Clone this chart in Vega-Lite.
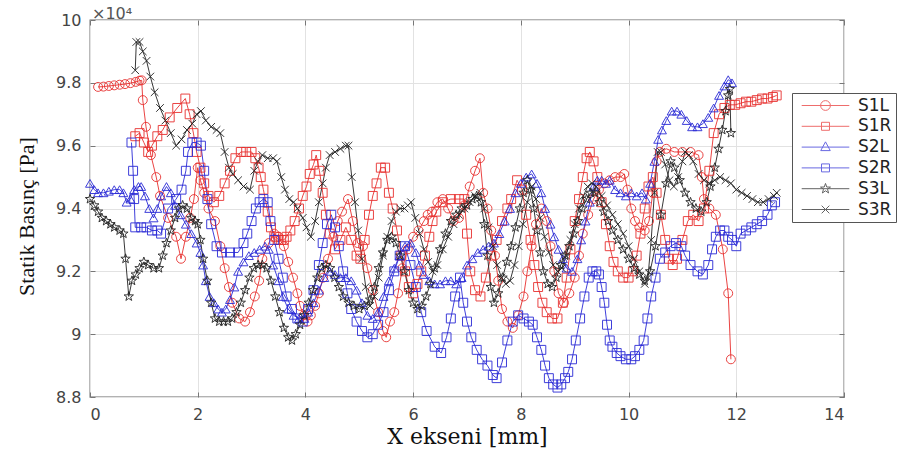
{
"$schema": "https://vega.github.io/schema/vega-lite/v6.json",
"width": 754, "height": 377,
"autosize": "none",
"padding": {"left": 90, "top": 20, "right": 61, "bottom": 65},
"background": "white",
"title": {"text": "×10⁴", "anchor": "start", "frame": "group", "fontSize": 16, "font": "DejaVu Sans", "fontWeight": "normal", "color": "#555555", "offset": -10, "dx": 2},
"config": {"view": {"stroke": "#666666", "strokeWidth": 1.3}, "font": "DejaVu Sans"},
"data": {"values": [
{"s":"S1L","x":0.15,"y":97870},{"s":"S1L","x":0.25,"y":97880},{"s":"S1L","x":0.35,"y":97900},{"s":"S1L","x":0.45,"y":97920},{"s":"S1L","x":0.55,"y":97940},{"s":"S1L","x":0.65,"y":97960},{"s":"S1L","x":0.75,"y":97990},{"s":"S1L","x":0.85,"y":98030},{"s":"S1L","x":0.92,"y":98070},{"s":"S1L","x":0.96,"y":98080},{"s":"S1L","x":0.98,"y":97450},{"s":"S1L","x":1.04,"y":96600},{"s":"S1L","x":1.13,"y":95700},{"s":"S1L","x":1.23,"y":95000},{"s":"S1L","x":1.3,"y":94400},{"s":"S1L","x":1.45,"y":93700},{"s":"S1L","x":1.6,"y":93100},{"s":"S1L","x":1.69,"y":92400},{"s":"S1L","x":1.78,"y":93100},{"s":"S1L","x":1.86,"y":93700},{"s":"S1L","x":1.93,"y":94300},{"s":"S1L","x":2.0,"y":95300},{"s":"S1L","x":2.05,"y":94900},{"s":"S1L","x":2.12,"y":94500},{"s":"S1L","x":2.2,"y":94000},{"s":"S1L","x":2.32,"y":93600},{"s":"S1L","x":2.42,"y":92800},{"s":"S1L","x":2.5,"y":92100},{"s":"S1L","x":2.58,"y":91500},{"s":"S1L","x":2.64,"y":91000},{"s":"S1L","x":2.77,"y":90500},{"s":"S1L","x":2.88,"y":90400},{"s":"S1L","x":2.97,"y":90700},{"s":"S1L","x":3.06,"y":91200},{"s":"S1L","x":3.14,"y":91700},{"s":"S1L","x":3.2,"y":92400},{"s":"S1L","x":3.32,"y":92900},{"s":"S1L","x":3.42,"y":93200},{"s":"S1L","x":3.5,"y":93100},{"s":"S1L","x":3.6,"y":92800},{"s":"S1L","x":3.68,"y":92300},{"s":"S1L","x":3.77,"y":91800},{"s":"S1L","x":3.85,"y":91300},{"s":"S1L","x":3.9,"y":90900},{"s":"S1L","x":3.97,"y":90600},{"s":"S1L","x":4.04,"y":90400},{"s":"S1L","x":4.1,"y":90600},{"s":"S1L","x":4.18,"y":90900},{"s":"S1L","x":4.25,"y":91300},{"s":"S1L","x":4.33,"y":91800},{"s":"S1L","x":4.42,"y":92400},{"s":"S1L","x":4.52,"y":93100},{"s":"S1L","x":4.6,"y":93600},{"s":"S1L","x":4.68,"y":93900},{"s":"S1L","x":4.79,"y":94300},{"s":"S1L","x":4.88,"y":93600},{"s":"S1L","x":4.97,"y":92900},{"s":"S1L","x":5.07,"y":92800},{"s":"S1L","x":5.15,"y":92100},{"s":"S1L","x":5.25,"y":91400},{"s":"S1L","x":5.35,"y":90700},{"s":"S1L","x":5.44,"y":90100},{"s":"S1L","x":5.5,"y":89900},{"s":"S1L","x":5.57,"y":90400},{"s":"S1L","x":5.65,"y":90700},{"s":"S1L","x":5.72,"y":91300},{"s":"S1L","x":5.8,"y":92100},{"s":"S1L","x":5.9,"y":92700},{"s":"S1L","x":6.0,"y":93100},{"s":"S1L","x":6.1,"y":93300},{"s":"S1L","x":6.2,"y":93600},{"s":"S1L","x":6.27,"y":93800},{"s":"S1L","x":6.35,"y":93900},{"s":"S1L","x":6.45,"y":94200},{"s":"S1L","x":6.55,"y":94300},{"s":"S1L","x":6.65,"y":94000},{"s":"S1L","x":6.75,"y":93600},{"s":"S1L","x":6.85,"y":93700},{"s":"S1L","x":6.95,"y":94100},{"s":"S1L","x":7.05,"y":94700},{"s":"S1L","x":7.15,"y":95200},{"s":"S1L","x":7.24,"y":95600},{"s":"S1L","x":7.3,"y":94500},{"s":"S1L","x":7.38,"y":94000},{"s":"S1L","x":7.45,"y":93300},{"s":"S1L","x":7.52,"y":92500},{"s":"S1L","x":7.58,"y":91700},{"s":"S1L","x":7.65,"y":90800},{"s":"S1L","x":7.75,"y":90400},{"s":"S1L","x":7.85,"y":90200},{"s":"S1L","x":7.95,"y":90600},{"s":"S1L","x":8.05,"y":91200},{"s":"S1L","x":8.12,"y":92000},{"s":"S1L","x":8.2,"y":92800},{"s":"S1L","x":8.28,"y":93500},{"s":"S1L","x":8.38,"y":94000},{"s":"S1L","x":8.48,"y":93600},{"s":"S1L","x":8.55,"y":92800},{"s":"S1L","x":8.62,"y":92000},{"s":"S1L","x":8.7,"y":91300},{"s":"S1L","x":8.8,"y":91000},{"s":"S1L","x":8.9,"y":91300},{"s":"S1L","x":9.0,"y":91800},{"s":"S1L","x":9.08,"y":92500},{"s":"S1L","x":9.15,"y":93200},{"s":"S1L","x":9.25,"y":93800},{"s":"S1L","x":9.35,"y":94300},{"s":"S1L","x":9.45,"y":94600},{"s":"S1L","x":9.55,"y":94800},{"s":"S1L","x":9.65,"y":94900},{"s":"S1L","x":9.75,"y":95000},{"s":"S1L","x":9.85,"y":95000},{"s":"S1L","x":9.92,"y":95100},{"s":"S1L","x":9.98,"y":94600},{"s":"S1L","x":10.05,"y":94000},{"s":"S1L","x":10.12,"y":93600},{"s":"S1L","x":10.2,"y":93400},{"s":"S1L","x":10.3,"y":93300},{"s":"S1L","x":10.38,"y":93600},{"s":"S1L","x":10.45,"y":94500},{"s":"S1L","x":10.52,"y":95500},{"s":"S1L","x":10.58,"y":95800},{"s":"S1L","x":10.7,"y":95900},{"s":"S1L","x":10.85,"y":95800},{"s":"S1L","x":11.0,"y":95800},{"s":"S1L","x":11.15,"y":95800},{"s":"S1L","x":11.3,"y":95700},{"s":"S1L","x":11.36,"y":95000},{"s":"S1L","x":11.4,"y":94300},{"s":"S1L","x":11.5,"y":94000},{"s":"S1L","x":11.62,"y":93800},{"s":"S1L","x":11.75,"y":92700},{"s":"S1L","x":11.85,"y":91300},{"s":"S1L","x":11.9,"y":89200},
{"s":"S1R","x":0.84,"y":96300},{"s":"S1R","x":0.92,"y":96400},{"s":"S1R","x":1.0,"y":96100},{"s":"S1R","x":1.08,"y":95800},{"s":"S1R","x":1.15,"y":96000},{"s":"S1R","x":1.25,"y":96300},{"s":"S1R","x":1.35,"y":96500},{"s":"S1R","x":1.48,"y":96900},{"s":"S1R","x":1.62,"y":97200},{"s":"S1R","x":1.77,"y":97500},{"s":"S1R","x":1.85,"y":97000},{"s":"S1R","x":1.92,"y":96400},{"s":"S1R","x":1.98,"y":95800},{"s":"S1R","x":2.05,"y":95300},{"s":"S1R","x":2.12,"y":94800},{"s":"S1R","x":2.2,"y":94400},{"s":"S1R","x":2.3,"y":94200},{"s":"S1R","x":2.4,"y":94400},{"s":"S1R","x":2.5,"y":94800},{"s":"S1R","x":2.6,"y":95200},{"s":"S1R","x":2.7,"y":95600},{"s":"S1R","x":2.8,"y":95800},{"s":"S1R","x":2.9,"y":95800},{"s":"S1R","x":3.0,"y":95800},{"s":"S1R","x":3.07,"y":95600},{"s":"S1R","x":3.13,"y":95300},{"s":"S1R","x":3.17,"y":95000},{"s":"S1R","x":3.22,"y":94600},{"s":"S1R","x":3.3,"y":93900},{"s":"S1R","x":3.36,"y":93400},{"s":"S1R","x":3.45,"y":93100},{"s":"S1R","x":3.5,"y":93000},{"s":"S1R","x":3.55,"y":93000},{"s":"S1R","x":3.6,"y":93000},{"s":"S1R","x":3.65,"y":93100},{"s":"S1R","x":3.72,"y":93300},{"s":"S1R","x":3.8,"y":93600},{"s":"S1R","x":3.88,"y":94000},{"s":"S1R","x":3.95,"y":94400},{"s":"S1R","x":4.02,"y":94700},{"s":"S1R","x":4.08,"y":95100},{"s":"S1R","x":4.15,"y":95400},{"s":"S1R","x":4.2,"y":95700},{"s":"S1R","x":4.26,"y":95200},{"s":"S1R","x":4.32,"y":94500},{"s":"S1R","x":4.38,"y":93800},{"s":"S1R","x":4.45,"y":93200},{"s":"S1R","x":4.55,"y":92700},{"s":"S1R","x":4.65,"y":93000},{"s":"S1R","x":4.75,"y":93400},{"s":"S1R","x":4.85,"y":93000},{"s":"S1R","x":4.95,"y":92500},{"s":"S1R","x":5.02,"y":92400},{"s":"S1R","x":5.1,"y":93000},{"s":"S1R","x":5.18,"y":93800},{"s":"S1R","x":5.25,"y":94400},{"s":"S1R","x":5.32,"y":94800},{"s":"S1R","x":5.4,"y":95300},{"s":"S1R","x":5.48,"y":95300},{"s":"S1R","x":5.55,"y":94500},{"s":"S1R","x":5.62,"y":94000},{"s":"S1R","x":5.7,"y":93300},{"s":"S1R","x":5.78,"y":92500},{"s":"S1R","x":5.85,"y":92000},{"s":"S1R","x":5.92,"y":91500},{"s":"S1R","x":6.0,"y":91300},{"s":"S1R","x":6.08,"y":91600},{"s":"S1R","x":6.15,"y":92000},{"s":"S1R","x":6.22,"y":92500},{"s":"S1R","x":6.3,"y":93100},{"s":"S1R","x":6.36,"y":93600},{"s":"S1R","x":6.43,"y":93900},{"s":"S1R","x":6.55,"y":94200},{"s":"S1R","x":6.7,"y":94300},{"s":"S1R","x":6.85,"y":94300},{"s":"S1R","x":6.95,"y":94300},{"s":"S1R","x":7.0,"y":93200},{"s":"S1R","x":7.06,"y":92000},{"s":"S1R","x":7.15,"y":91400},{"s":"S1R","x":7.25,"y":91200},{"s":"S1R","x":7.35,"y":91800},{"s":"S1R","x":7.45,"y":92500},{"s":"S1R","x":7.55,"y":93000},{"s":"S1R","x":7.65,"y":93600},{"s":"S1R","x":7.75,"y":94000},{"s":"S1R","x":7.82,"y":94300},{"s":"S1R","x":7.93,"y":94900},{"s":"S1R","x":8.02,"y":94600},{"s":"S1R","x":8.1,"y":93800},{"s":"S1R","x":8.18,"y":93000},{"s":"S1R","x":8.25,"y":92200},{"s":"S1R","x":8.32,"y":91500},{"s":"S1R","x":8.4,"y":91000},{"s":"S1R","x":8.48,"y":90700},{"s":"S1R","x":8.58,"y":90500},{"s":"S1R","x":8.68,"y":90500},{"s":"S1R","x":8.78,"y":91000},{"s":"S1R","x":8.85,"y":91800},{"s":"S1R","x":8.92,"y":92700},{"s":"S1R","x":9.0,"y":93600},{"s":"S1R","x":9.08,"y":94300},{"s":"S1R","x":9.15,"y":95000},{"s":"S1R","x":9.22,"y":95600},{"s":"S1R","x":9.28,"y":95800},{"s":"S1R","x":9.35,"y":95500},{"s":"S1R","x":9.42,"y":95000},{"s":"S1R","x":9.5,"y":94200},{"s":"S1R","x":9.58,"y":93500},{"s":"S1R","x":9.65,"y":92800},{"s":"S1R","x":9.72,"y":92300},{"s":"S1R","x":9.8,"y":92000},{"s":"S1R","x":9.9,"y":91800},{"s":"S1R","x":10.0,"y":91800},{"s":"S1R","x":10.08,"y":92000},{"s":"S1R","x":10.15,"y":92500},{"s":"S1R","x":10.22,"y":93200},{"s":"S1R","x":10.3,"y":94000},{"s":"S1R","x":10.37,"y":94700},{"s":"S1R","x":10.45,"y":95000},{"s":"S1R","x":10.52,"y":94500},{"s":"S1R","x":10.6,"y":93800},{"s":"S1R","x":10.68,"y":93000},{"s":"S1R","x":10.75,"y":92400},{"s":"S1R","x":10.82,"y":92200},{"s":"S1R","x":10.9,"y":92400},{"s":"S1R","x":11.0,"y":93000},{"s":"S1R","x":11.1,"y":93600},{"s":"S1R","x":11.2,"y":93800},{"s":"S1R","x":11.3,"y":93600},{"s":"S1R","x":11.4,"y":94000},{"s":"S1R","x":11.5,"y":95200},{"s":"S1R","x":11.58,"y":96400},{"s":"S1R","x":11.68,"y":97000},{"s":"S1R","x":11.78,"y":97200},{"s":"S1R","x":11.88,"y":97300},{"s":"S1R","x":11.98,"y":97300},{"s":"S1R","x":12.08,"y":97350},{"s":"S1R","x":12.18,"y":97400},{"s":"S1R","x":12.28,"y":97400},{"s":"S1R","x":12.38,"y":97450},{"s":"S1R","x":12.48,"y":97500},{"s":"S1R","x":12.58,"y":97500},{"s":"S1R","x":12.68,"y":97550},{"s":"S1R","x":12.75,"y":97600},
{"s":"S2L","x":0.0,"y":94800},{"s":"S2L","x":0.08,"y":94600},{"s":"S2L","x":0.15,"y":94500},{"s":"S2L","x":0.25,"y":94500},{"s":"S2L","x":0.35,"y":94550},{"s":"S2L","x":0.45,"y":94600},{"s":"S2L","x":0.55,"y":94600},{"s":"S2L","x":0.62,"y":94500},{"s":"S2L","x":0.68,"y":94200},{"s":"S2L","x":0.75,"y":94300},{"s":"S2L","x":0.82,"y":94600},{"s":"S2L","x":0.9,"y":94700},{"s":"S2L","x":0.95,"y":94700},{"s":"S2L","x":1.02,"y":94400},{"s":"S2L","x":1.1,"y":94000},{"s":"S2L","x":1.18,"y":93700},{"s":"S2L","x":1.25,"y":94000},{"s":"S2L","x":1.32,"y":94400},{"s":"S2L","x":1.42,"y":94700},{"s":"S2L","x":1.5,"y":94500},{"s":"S2L","x":1.58,"y":94100},{"s":"S2L","x":1.68,"y":93800},{"s":"S2L","x":1.78,"y":93500},{"s":"S2L","x":1.88,"y":93200},{"s":"S2L","x":1.98,"y":92900},{"s":"S2L","x":2.05,"y":92600},{"s":"S2L","x":2.1,"y":92200},{"s":"S2L","x":2.15,"y":91700},{"s":"S2L","x":2.22,"y":91200},{"s":"S2L","x":2.3,"y":91000},{"s":"S2L","x":2.38,"y":90800},{"s":"S2L","x":2.45,"y":90700},{"s":"S2L","x":2.52,"y":90800},{"s":"S2L","x":2.6,"y":91100},{"s":"S2L","x":2.68,"y":91500},{"s":"S2L","x":2.75,"y":92000},{"s":"S2L","x":2.85,"y":92300},{"s":"S2L","x":2.95,"y":92500},{"s":"S2L","x":3.05,"y":92600},{"s":"S2L","x":3.15,"y":92700},{"s":"S2L","x":3.25,"y":92800},{"s":"S2L","x":3.32,"y":92700},{"s":"S2L","x":3.4,"y":92200},{"s":"S2L","x":3.5,"y":91700},{"s":"S2L","x":3.58,"y":91200},{"s":"S2L","x":3.68,"y":90800},{"s":"S2L","x":3.78,"y":90600},{"s":"S2L","x":3.88,"y":90500},{"s":"S2L","x":3.98,"y":90500},{"s":"S2L","x":4.05,"y":90700},{"s":"S2L","x":4.15,"y":91000},{"s":"S2L","x":4.25,"y":91400},{"s":"S2L","x":4.35,"y":91800},{"s":"S2L","x":4.45,"y":92000},{"s":"S2L","x":4.55,"y":91900},{"s":"S2L","x":4.65,"y":91800},{"s":"S2L","x":4.75,"y":91800},{"s":"S2L","x":4.85,"y":91700},{"s":"S2L","x":4.95,"y":91400},{"s":"S2L","x":5.05,"y":91000},{"s":"S2L","x":5.15,"y":90600},{"s":"S2L","x":5.25,"y":90500},{"s":"S2L","x":5.35,"y":90700},{"s":"S2L","x":5.45,"y":91200},{"s":"S2L","x":5.55,"y":91700},{"s":"S2L","x":5.65,"y":92100},{"s":"S2L","x":5.75,"y":92500},{"s":"S2L","x":5.85,"y":92800},{"s":"S2L","x":5.95,"y":92900},{"s":"S2L","x":6.05,"y":92600},{"s":"S2L","x":6.12,"y":92200},{"s":"S2L","x":6.2,"y":91900},{"s":"S2L","x":6.3,"y":91700},{"s":"S2L","x":6.4,"y":91600},{"s":"S2L","x":6.5,"y":91600},{"s":"S2L","x":6.6,"y":91700},{"s":"S2L","x":6.7,"y":91700},{"s":"S2L","x":6.8,"y":91600},{"s":"S2L","x":6.9,"y":91800},{"s":"S2L","x":7.0,"y":92200},{"s":"S2L","x":7.1,"y":92400},{"s":"S2L","x":7.2,"y":92600},{"s":"S2L","x":7.3,"y":92700},{"s":"S2L","x":7.4,"y":92800},{"s":"S2L","x":7.5,"y":92900},{"s":"S2L","x":7.6,"y":93200},{"s":"S2L","x":7.7,"y":93600},{"s":"S2L","x":7.8,"y":94000},{"s":"S2L","x":7.9,"y":94500},{"s":"S2L","x":8.0,"y":94800},{"s":"S2L","x":8.1,"y":95000},{"s":"S2L","x":8.2,"y":95100},{"s":"S2L","x":8.3,"y":94800},{"s":"S2L","x":8.38,"y":94500},{"s":"S2L","x":8.45,"y":94000},{"s":"S2L","x":8.55,"y":93500},{"s":"S2L","x":8.62,"y":93100},{"s":"S2L","x":8.7,"y":92700},{"s":"S2L","x":8.78,"y":92400},{"s":"S2L","x":8.85,"y":92100},{"s":"S2L","x":8.95,"y":92000},{"s":"S2L","x":9.05,"y":92400},{"s":"S2L","x":9.12,"y":93000},{"s":"S2L","x":9.2,"y":93600},{"s":"S2L","x":9.28,"y":94200},{"s":"S2L","x":9.35,"y":94700},{"s":"S2L","x":9.42,"y":94900},{"s":"S2L","x":9.5,"y":94900},{"s":"S2L","x":9.58,"y":94800},{"s":"S2L","x":9.65,"y":94900},{"s":"S2L","x":9.75,"y":94600},{"s":"S2L","x":9.85,"y":94500},{"s":"S2L","x":9.95,"y":94400},{"s":"S2L","x":10.05,"y":94500},{"s":"S2L","x":10.15,"y":94400},{"s":"S2L","x":10.25,"y":94500},{"s":"S2L","x":10.32,"y":94300},{"s":"S2L","x":10.4,"y":94800},{"s":"S2L","x":10.48,"y":95500},{"s":"S2L","x":10.55,"y":96200},{"s":"S2L","x":10.62,"y":96500},{"s":"S2L","x":10.7,"y":96800},{"s":"S2L","x":10.8,"y":97100},{"s":"S2L","x":10.9,"y":97100},{"s":"S2L","x":10.98,"y":97000},{"s":"S2L","x":11.08,"y":96800},{"s":"S2L","x":11.18,"y":96600},{"s":"S2L","x":11.28,"y":96600},{"s":"S2L","x":11.38,"y":96700},{"s":"S2L","x":11.48,"y":96900},{"s":"S2L","x":11.58,"y":97200},{"s":"S2L","x":11.68,"y":97600},{"s":"S2L","x":11.78,"y":97900},{"s":"S2L","x":11.85,"y":98100},{"s":"S2L","x":11.92,"y":98000},
{"s":"S2R","x":0.77,"y":96100},{"s":"S2R","x":0.8,"y":95200},{"s":"S2R","x":0.82,"y":94300},{"s":"S2R","x":0.84,"y":93400},{"s":"S2R","x":0.95,"y":93400},{"s":"S2R","x":1.05,"y":93400},{"s":"S2R","x":1.15,"y":93300},{"s":"S2R","x":1.25,"y":93300},{"s":"S2R","x":1.32,"y":93200},{"s":"S2R","x":1.45,"y":94000},{"s":"S2R","x":1.6,"y":94300},{"s":"S2R","x":1.7,"y":94600},{"s":"S2R","x":1.78,"y":95200},{"s":"S2R","x":1.82,"y":95800},{"s":"S2R","x":1.9,"y":96100},{"s":"S2R","x":1.98,"y":96100},{"s":"S2R","x":2.06,"y":96000},{"s":"S2R","x":2.12,"y":95200},{"s":"S2R","x":2.18,"y":94300},{"s":"S2R","x":2.25,"y":93500},{"s":"S2R","x":2.35,"y":92800},{"s":"S2R","x":2.45,"y":92600},{"s":"S2R","x":2.6,"y":92600},{"s":"S2R","x":2.75,"y":92600},{"s":"S2R","x":2.85,"y":92900},{"s":"S2R","x":2.92,"y":93200},{"s":"S2R","x":3.0,"y":93600},{"s":"S2R","x":3.08,"y":94000},{"s":"S2R","x":3.15,"y":94200},{"s":"S2R","x":3.22,"y":94300},{"s":"S2R","x":3.3,"y":94200},{"s":"S2R","x":3.35,"y":93600},{"s":"S2R","x":3.42,"y":93000},{"s":"S2R","x":3.5,"y":92400},{"s":"S2R","x":3.58,"y":91800},{"s":"S2R","x":3.65,"y":91200},{"s":"S2R","x":3.75,"y":90800},{"s":"S2R","x":3.85,"y":90500},{"s":"S2R","x":3.95,"y":90400},{"s":"S2R","x":4.05,"y":90800},{"s":"S2R","x":4.15,"y":91400},{"s":"S2R","x":4.25,"y":92200},{"s":"S2R","x":4.32,"y":92900},{"s":"S2R","x":4.4,"y":93500},{"s":"S2R","x":4.48,"y":93800},{"s":"S2R","x":4.55,"y":93400},{"s":"S2R","x":4.62,"y":92800},{"s":"S2R","x":4.7,"y":92000},{"s":"S2R","x":4.78,"y":91300},{"s":"S2R","x":4.85,"y":90800},{"s":"S2R","x":4.95,"y":90400},{"s":"S2R","x":5.05,"y":90100},{"s":"S2R","x":5.15,"y":89900},{"s":"S2R","x":5.25,"y":90000},{"s":"S2R","x":5.35,"y":90300},{"s":"S2R","x":5.45,"y":90700},{"s":"S2R","x":5.55,"y":91400},{"s":"S2R","x":5.65,"y":92000},{"s":"S2R","x":5.75,"y":92500},{"s":"S2R","x":5.85,"y":92800},{"s":"S2R","x":5.95,"y":92200},{"s":"S2R","x":6.05,"y":91500},{"s":"S2R","x":6.15,"y":90700},{"s":"S2R","x":6.25,"y":90100},{"s":"S2R","x":6.4,"y":89600},{"s":"S2R","x":6.52,"y":89400},{"s":"S2R","x":6.62,"y":89900},{"s":"S2R","x":6.7,"y":90500},{"s":"S2R","x":6.78,"y":91200},{"s":"S2R","x":6.87,"y":91800},{"s":"S2R","x":6.93,"y":91000},{"s":"S2R","x":7.0,"y":90400},{"s":"S2R","x":7.08,"y":89900},{"s":"S2R","x":7.18,"y":89500},{"s":"S2R","x":7.28,"y":89200},{"s":"S2R","x":7.38,"y":89000},{"s":"S2R","x":7.48,"y":88700},{"s":"S2R","x":7.55,"y":88600},{"s":"S2R","x":7.65,"y":89100},{"s":"S2R","x":7.75,"y":89800},{"s":"S2R","x":7.85,"y":90400},{"s":"S2R","x":7.95,"y":90600},{"s":"S2R","x":8.05,"y":90500},{"s":"S2R","x":8.15,"y":90400},{"s":"S2R","x":8.22,"y":90300},{"s":"S2R","x":8.3,"y":89900},{"s":"S2R","x":8.38,"y":89500},{"s":"S2R","x":8.45,"y":89000},{"s":"S2R","x":8.52,"y":88600},{"s":"S2R","x":8.6,"y":88400},{"s":"S2R","x":8.68,"y":88300},{"s":"S2R","x":8.75,"y":88400},{"s":"S2R","x":8.82,"y":88600},{"s":"S2R","x":8.88,"y":88800},{"s":"S2R","x":8.95,"y":89200},{"s":"S2R","x":9.02,"y":89800},{"s":"S2R","x":9.1,"y":90500},{"s":"S2R","x":9.18,"y":91200},{"s":"S2R","x":9.26,"y":91800},{"s":"S2R","x":9.33,"y":92000},{"s":"S2R","x":9.4,"y":92000},{"s":"S2R","x":9.45,"y":91900},{"s":"S2R","x":9.5,"y":91500},{"s":"S2R","x":9.55,"y":91000},{"s":"S2R","x":9.6,"y":90300},{"s":"S2R","x":9.65,"y":89800},{"s":"S2R","x":9.7,"y":89600},{"s":"S2R","x":9.78,"y":89400},{"s":"S2R","x":9.85,"y":89300},{"s":"S2R","x":9.95,"y":89200},{"s":"S2R","x":10.05,"y":89200},{"s":"S2R","x":10.12,"y":89300},{"s":"S2R","x":10.2,"y":89500},{"s":"S2R","x":10.28,"y":89800},{"s":"S2R","x":10.35,"y":90500},{"s":"S2R","x":10.42,"y":91200},{"s":"S2R","x":10.5,"y":91800},{"s":"S2R","x":10.58,"y":92400},{"s":"S2R","x":10.68,"y":92600},{"s":"S2R","x":10.78,"y":92800},{"s":"S2R","x":10.88,"y":92900},{"s":"S2R","x":10.98,"y":92800},{"s":"S2R","x":11.05,"y":92500},{"s":"S2R","x":11.15,"y":92200},{"s":"S2R","x":11.28,"y":92000},{"s":"S2R","x":11.38,"y":91900},{"s":"S2R","x":11.48,"y":92200},{"s":"S2R","x":11.55,"y":92700},{"s":"S2R","x":11.62,"y":93100},{"s":"S2R","x":11.7,"y":93300},{"s":"S2R","x":11.78,"y":93300},{"s":"S2R","x":11.85,"y":93100},{"s":"S2R","x":11.92,"y":93000},{"s":"S2R","x":12.0,"y":92800},{"s":"S2R","x":12.08,"y":93200},{"s":"S2R","x":12.18,"y":93300},{"s":"S2R","x":12.28,"y":93400},{"s":"S2R","x":12.38,"y":93500},{"s":"S2R","x":12.48,"y":93600},{"s":"S2R","x":12.58,"y":93800},{"s":"S2R","x":12.66,"y":94100},{"s":"S2R","x":12.72,"y":94200},
{"s":"S3L","x":0.0,"y":94300},{"s":"S3L","x":0.08,"y":94100},{"s":"S3L","x":0.15,"y":93900},{"s":"S3L","x":0.22,"y":93700},{"s":"S3L","x":0.3,"y":93600},{"s":"S3L","x":0.38,"y":93500},{"s":"S3L","x":0.45,"y":93400},{"s":"S3L","x":0.55,"y":93300},{"s":"S3L","x":0.62,"y":93200},{"s":"S3L","x":0.66,"y":92400},{"s":"S3L","x":0.72,"y":91200},{"s":"S3L","x":0.78,"y":91700},{"s":"S3L","x":0.85,"y":91900},{"s":"S3L","x":0.92,"y":92100},{"s":"S3L","x":1.0,"y":92300},{"s":"S3L","x":1.08,"y":92200},{"s":"S3L","x":1.18,"y":92100},{"s":"S3L","x":1.28,"y":92100},{"s":"S3L","x":1.35,"y":92500},{"s":"S3L","x":1.42,"y":92900},{"s":"S3L","x":1.5,"y":93300},{"s":"S3L","x":1.58,"y":93700},{"s":"S3L","x":1.65,"y":94000},{"s":"S3L","x":1.72,"y":94100},{"s":"S3L","x":1.8,"y":94000},{"s":"S3L","x":1.88,"y":93700},{"s":"S3L","x":1.95,"y":93600},{"s":"S3L","x":2.0,"y":93500},{"s":"S3L","x":2.05,"y":93000},{"s":"S3L","x":2.1,"y":92400},{"s":"S3L","x":2.18,"y":91700},{"s":"S3L","x":2.25,"y":91000},{"s":"S3L","x":2.32,"y":90500},{"s":"S3L","x":2.4,"y":90400},{"s":"S3L","x":2.48,"y":90400},{"s":"S3L","x":2.56,"y":90400},{"s":"S3L","x":2.64,"y":90500},{"s":"S3L","x":2.72,"y":90700},{"s":"S3L","x":2.8,"y":91000},{"s":"S3L","x":2.88,"y":91400},{"s":"S3L","x":2.96,"y":91800},{"s":"S3L","x":3.04,"y":92100},{"s":"S3L","x":3.12,"y":92200},{"s":"S3L","x":3.2,"y":92200},{"s":"S3L","x":3.28,"y":92100},{"s":"S3L","x":3.36,"y":91700},{"s":"S3L","x":3.44,"y":91200},{"s":"S3L","x":3.52,"y":90700},{"s":"S3L","x":3.6,"y":90200},{"s":"S3L","x":3.68,"y":89900},{"s":"S3L","x":3.75,"y":89800},{"s":"S3L","x":3.82,"y":90000},{"s":"S3L","x":3.9,"y":90300},{"s":"S3L","x":3.98,"y":90600},{"s":"S3L","x":4.06,"y":91000},{"s":"S3L","x":4.14,"y":91400},{"s":"S3L","x":4.22,"y":91800},{"s":"S3L","x":4.3,"y":92100},{"s":"S3L","x":4.38,"y":92200},{"s":"S3L","x":4.46,"y":92100},{"s":"S3L","x":4.54,"y":91800},{"s":"S3L","x":4.62,"y":91500},{"s":"S3L","x":4.7,"y":91200},{"s":"S3L","x":4.8,"y":91000},{"s":"S3L","x":4.9,"y":90900},{"s":"S3L","x":5.0,"y":90800},{"s":"S3L","x":5.1,"y":90900},{"s":"S3L","x":5.2,"y":91100},{"s":"S3L","x":5.28,"y":91500},{"s":"S3L","x":5.36,"y":92100},{"s":"S3L","x":5.44,"y":92600},{"s":"S3L","x":5.52,"y":93000},{"s":"S3L","x":5.6,"y":93100},{"s":"S3L","x":5.68,"y":92900},{"s":"S3L","x":5.76,"y":92500},{"s":"S3L","x":5.84,"y":92000},{"s":"S3L","x":5.92,"y":91400},{"s":"S3L","x":6.0,"y":91000},{"s":"S3L","x":6.08,"y":90800},{"s":"S3L","x":6.16,"y":90900},{"s":"S3L","x":6.24,"y":91200},{"s":"S3L","x":6.32,"y":91600},{"s":"S3L","x":6.4,"y":92100},{"s":"S3L","x":6.5,"y":92700},{"s":"S3L","x":6.6,"y":93200},{"s":"S3L","x":6.7,"y":93600},{"s":"S3L","x":6.8,"y":93800},{"s":"S3L","x":6.9,"y":94000},{"s":"S3L","x":7.0,"y":94100},{"s":"S3L","x":7.1,"y":94300},{"s":"S3L","x":7.18,"y":94400},{"s":"S3L","x":7.26,"y":94200},{"s":"S3L","x":7.32,"y":93500},{"s":"S3L","x":7.38,"y":92500},{"s":"S3L","x":7.44,"y":91500},{"s":"S3L","x":7.5,"y":91000},{"s":"S3L","x":7.58,"y":91300},{"s":"S3L","x":7.66,"y":91800},{"s":"S3L","x":7.74,"y":92300},{"s":"S3L","x":7.82,"y":92800},{"s":"S3L","x":7.9,"y":93400},{"s":"S3L","x":7.98,"y":94000},{"s":"S3L","x":8.05,"y":94500},{"s":"S3L","x":8.12,"y":94900},{"s":"S3L","x":8.18,"y":94600},{"s":"S3L","x":8.24,"y":94000},{"s":"S3L","x":8.3,"y":93300},{"s":"S3L","x":8.36,"y":92600},{"s":"S3L","x":8.42,"y":92000},{"s":"S3L","x":8.5,"y":91600},{"s":"S3L","x":8.58,"y":91500},{"s":"S3L","x":8.66,"y":91800},{"s":"S3L","x":8.74,"y":92200},{"s":"S3L","x":8.82,"y":92500},{"s":"S3L","x":8.9,"y":92800},{"s":"S3L","x":8.98,"y":93200},{"s":"S3L","x":9.06,"y":93600},{"s":"S3L","x":9.14,"y":94000},{"s":"S3L","x":9.22,"y":94300},{"s":"S3L","x":9.3,"y":94500},{"s":"S3L","x":9.38,"y":94500},{"s":"S3L","x":9.46,"y":94200},{"s":"S3L","x":9.54,"y":93900},{"s":"S3L","x":9.62,"y":93600},{"s":"S3L","x":9.7,"y":93300},{"s":"S3L","x":9.8,"y":93000},{"s":"S3L","x":9.9,"y":92700},{"s":"S3L","x":10.0,"y":92400},{"s":"S3L","x":10.1,"y":92100},{"s":"S3L","x":10.2,"y":91900},{"s":"S3L","x":10.3,"y":91700},{"s":"S3L","x":10.4,"y":92000},{"s":"S3L","x":10.5,"y":92800},{"s":"S3L","x":10.6,"y":93800},{"s":"S3L","x":10.7,"y":94800},{"s":"S3L","x":10.78,"y":95500},{"s":"S3L","x":10.85,"y":95300},{"s":"S3L","x":10.95,"y":94900},{"s":"S3L","x":11.05,"y":94500},{"s":"S3L","x":11.15,"y":94200},{"s":"S3L","x":11.25,"y":94000},{"s":"S3L","x":11.35,"y":93900},{"s":"S3L","x":11.45,"y":94200},{"s":"S3L","x":11.52,"y":94700},{"s":"S3L","x":11.6,"y":95300},{"s":"S3L","x":11.67,"y":95900},{"s":"S3L","x":11.74,"y":96500},{"s":"S3L","x":11.8,"y":97100},{"s":"S3L","x":11.85,"y":97600},{"s":"S3L","x":11.88,"y":97800},{"s":"S3L","x":11.9,"y":96400},
{"s":"S3R","x":0.84,"y":98400},{"s":"S3R","x":0.86,"y":99300},{"s":"S3R","x":0.92,"y":99300},{"s":"S3R","x":0.98,"y":99000},{"s":"S3R","x":1.05,"y":98700},{"s":"S3R","x":1.12,"y":98200},{"s":"S3R","x":1.2,"y":97700},{"s":"S3R","x":1.3,"y":97200},{"s":"S3R","x":1.4,"y":96800},{"s":"S3R","x":1.5,"y":96400},{"s":"S3R","x":1.6,"y":96000},{"s":"S3R","x":1.7,"y":96200},{"s":"S3R","x":1.8,"y":96500},{"s":"S3R","x":1.9,"y":96700},{"s":"S3R","x":1.98,"y":97000},{"s":"S3R","x":2.06,"y":97100},{"s":"S3R","x":2.15,"y":96800},{"s":"S3R","x":2.25,"y":96600},{"s":"S3R","x":2.35,"y":96500},{"s":"S3R","x":2.42,"y":96400},{"s":"S3R","x":2.5,"y":95800},{"s":"S3R","x":2.58,"y":95300},{"s":"S3R","x":2.65,"y":95100},{"s":"S3R","x":2.75,"y":94900},{"s":"S3R","x":2.85,"y":94700},{"s":"S3R","x":2.97,"y":94600},{"s":"S3R","x":3.05,"y":95200},{"s":"S3R","x":3.12,"y":95500},{"s":"S3R","x":3.2,"y":95700},{"s":"S3R","x":3.3,"y":95600},{"s":"S3R","x":3.4,"y":95600},{"s":"S3R","x":3.47,"y":95500},{"s":"S3R","x":3.55,"y":95000},{"s":"S3R","x":3.62,"y":94600},{"s":"S3R","x":3.7,"y":94300},{"s":"S3R","x":3.78,"y":94200},{"s":"S3R","x":3.85,"y":94000},{"s":"S3R","x":3.95,"y":93700},{"s":"S3R","x":4.02,"y":93400},{"s":"S3R","x":4.1,"y":93100},{"s":"S3R","x":4.18,"y":93600},{"s":"S3R","x":4.25,"y":94200},{"s":"S3R","x":4.32,"y":94800},{"s":"S3R","x":4.38,"y":95300},{"s":"S3R","x":4.45,"y":95700},{"s":"S3R","x":4.55,"y":95800},{"s":"S3R","x":4.65,"y":95900},{"s":"S3R","x":4.75,"y":96000},{"s":"S3R","x":4.8,"y":96000},{"s":"S3R","x":4.86,"y":95000},{"s":"S3R","x":4.92,"y":94200},{"s":"S3R","x":4.98,"y":93300},{"s":"S3R","x":5.05,"y":92400},{"s":"S3R","x":5.12,"y":91500},{"s":"S3R","x":5.2,"y":90900},{"s":"S3R","x":5.28,"y":91200},{"s":"S3R","x":5.36,"y":91800},{"s":"S3R","x":5.44,"y":92500},{"s":"S3R","x":5.52,"y":93100},{"s":"S3R","x":5.6,"y":93600},{"s":"S3R","x":5.68,"y":93900},{"s":"S3R","x":5.76,"y":94000},{"s":"S3R","x":5.84,"y":94000},{"s":"S3R","x":5.9,"y":94100},{"s":"S3R","x":5.96,"y":94200},{"s":"S3R","x":6.04,"y":93700},{"s":"S3R","x":6.12,"y":93200},{"s":"S3R","x":6.2,"y":92700},{"s":"S3R","x":6.28,"y":92300},{"s":"S3R","x":6.36,"y":92000},{"s":"S3R","x":6.45,"y":92200},{"s":"S3R","x":6.55,"y":92700},{"s":"S3R","x":6.65,"y":93100},{"s":"S3R","x":6.75,"y":93500},{"s":"S3R","x":6.85,"y":93800},{"s":"S3R","x":6.95,"y":94000},{"s":"S3R","x":7.05,"y":94200},{"s":"S3R","x":7.15,"y":94400},{"s":"S3R","x":7.25,"y":94500},{"s":"S3R","x":7.32,"y":94000},{"s":"S3R","x":7.4,"y":93400},{"s":"S3R","x":7.48,"y":92800},{"s":"S3R","x":7.56,"y":92200},{"s":"S3R","x":7.64,"y":91800},{"s":"S3R","x":7.72,"y":91600},{"s":"S3R","x":7.8,"y":91700},{"s":"S3R","x":7.88,"y":92200},{"s":"S3R","x":7.96,"y":92800},{"s":"S3R","x":8.04,"y":93500},{"s":"S3R","x":8.12,"y":94200},{"s":"S3R","x":8.2,"y":94700},{"s":"S3R","x":8.28,"y":94300},{"s":"S3R","x":8.36,"y":93700},{"s":"S3R","x":8.44,"y":93100},{"s":"S3R","x":8.52,"y":92600},{"s":"S3R","x":8.6,"y":92200},{"s":"S3R","x":8.68,"y":92000},{"s":"S3R","x":8.76,"y":92100},{"s":"S3R","x":8.84,"y":92500},{"s":"S3R","x":8.92,"y":93000},{"s":"S3R","x":9.0,"y":93500},{"s":"S3R","x":9.08,"y":94000},{"s":"S3R","x":9.16,"y":94400},{"s":"S3R","x":9.24,"y":94700},{"s":"S3R","x":9.32,"y":94800},{"s":"S3R","x":9.4,"y":94700},{"s":"S3R","x":9.5,"y":94400},{"s":"S3R","x":9.6,"y":94100},{"s":"S3R","x":9.7,"y":93800},{"s":"S3R","x":9.8,"y":93500},{"s":"S3R","x":9.9,"y":93200},{"s":"S3R","x":10.0,"y":92800},{"s":"S3R","x":10.1,"y":92400},{"s":"S3R","x":10.2,"y":92000},{"s":"S3R","x":10.3,"y":91600},{"s":"S3R","x":10.36,"y":91800},{"s":"S3R","x":10.42,"y":93000},{"s":"S3R","x":10.48,"y":94500},{"s":"S3R","x":10.54,"y":95800},{"s":"S3R","x":10.6,"y":95800},{"s":"S3R","x":10.68,"y":95400},{"s":"S3R","x":10.76,"y":94900},{"s":"S3R","x":10.84,"y":94700},{"s":"S3R","x":10.92,"y":95000},{"s":"S3R","x":11.0,"y":95500},{"s":"S3R","x":11.05,"y":95800},{"s":"S3R","x":11.12,"y":95700},{"s":"S3R","x":11.2,"y":95500},{"s":"S3R","x":11.3,"y":95100},{"s":"S3R","x":11.4,"y":94900},{"s":"S3R","x":11.5,"y":94800},{"s":"S3R","x":11.6,"y":94900},{"s":"S3R","x":11.7,"y":95000},{"s":"S3R","x":11.8,"y":94900},{"s":"S3R","x":11.9,"y":94800},{"s":"S3R","x":12.0,"y":94600},{"s":"S3R","x":12.1,"y":94500},{"s":"S3R","x":12.2,"y":94400},{"s":"S3R","x":12.3,"y":94300},{"s":"S3R","x":12.4,"y":94200},{"s":"S3R","x":12.5,"y":94200},{"s":"S3R","x":12.6,"y":94300},{"s":"S3R","x":12.7,"y":94400},{"s":"S3R","x":12.75,"y":94500}
]},
"layer": [
{
"mark": {"type": "line", "strokeWidth": 1, "opacity": 0.9},
"encoding": {
"x": {"field": "x", "type": "quantitative", "scale": {"domain": [0, 14], "nice": false},
"axis": {"values": [0,2,4,6,8,10,12,14], "grid": true, "gridColor": "#e2e2e2", "domain": false, "ticks": true, "tickSize": -5, "tickColor": "#777777", "labelFont": "DejaVu Sans", "labelFontSize": 16, "labelColor": "#444444", "labelPadding": 14, "title": "X ekseni [mm]", "titleFont": "DejaVu Serif", "titleFontSize": 22, "titleFontWeight": "normal", "titleColor": "#111111", "titleBaseline": "top", "titleY": 29}},
"y": {"field": "y", "type": "quantitative", "scale": {"domain": [88000, 100000], "nice": false, "zero": false},
"axis": {"values": [88000,90000,92000,94000,96000,98000,100000], "labelExpr": "format(datum.value/10000, '~g')", "grid": true, "gridColor": "#e2e2e2", "domain": false, "ticks": true, "tickSize": -5, "tickColor": "#777777", "labelFont": "DejaVu Sans", "labelFontSize": 16, "labelColor": "#444444", "labelPadding": 14, "title": "Statik Basınç [Pa]", "titleFont": "Liberation Serif", "titleFontSize": 22, "titleFontWeight": "normal", "titleColor": "#111111", "titleX": -52, "titleY": 196}},
"color": {"field": "s", "type": "nominal", "scale": {"domain": ["S1L","S1R","S2L","S2R","S3L","S3R"], "range": ["#e8302f","#e8302f","#2a2ad6","#2a2ad6","#222222","#222222"]}, "legend": null},
"detail": {"field": "s"}
}
},
{
"mark": {"type": "point", "filled": false, "size": 80, "strokeWidth": 1, "opacity": 0.9},
"encoding": {
"x": {"field": "x", "type": "quantitative", "axis": null},
"y": {"field": "y", "type": "quantitative", "axis": null},
"color": {"field": "s", "type": "nominal", "scale": {"domain": ["S1L","S1R","S2L","S2R","S3L","S3R"], "range": ["#e8302f","#e8302f","#2a2ad6","#2a2ad6","#222222","#222222"]}, "legend": null},
"shape": {"field": "s", "type": "nominal", "scale": {"domain": ["S1L","S1R","S2L","S2R","S3L","S3R"], "range": ["circle","square","triangle-up","square","M0,-1.1L0.26,-0.36L1.05,-0.34L0.42,0.14L0.65,0.89L0,0.44L-0.65,0.89L-0.42,0.14L-1.05,-0.34L-0.26,-0.36Z","M-0.85,-0.85L0.85,0.85M-0.85,0.85L0.85,-0.85"]}, "legend": null}
}
},
{
"transform": [{"filter": "datum.x > 100"}],
"mark": {"type": "point", "filled": false},
"encoding": {
"x": {"field": "x", "type": "quantitative", "axis": {"orient": "top", "values": [0,2,4,6,8,10,12,14], "labels": false, "grid": false, "domain": false, "ticks": true, "tickSize": -5, "tickColor": "#777777", "title": null}},
"y": {"field": "y", "type": "quantitative", "axis": {"orient": "right", "values": [88000,90000,92000,94000,96000,98000,100000], "labels": false, "grid": false, "domain": false, "ticks": true, "tickSize": -5, "tickColor": "#777777", "title": null}},
"color": {"field": "s", "type": "nominal", "scale": {"domain": ["S1L","S1R","S2L","S2R","S3L","S3R"], "range": ["#e8302f","#e8302f","#2a2ad6","#2a2ad6","#222222","#222222"]},
"legend": {"title": null, "orient": "none", "legendX": 702, "legendY": 73, "fillColor": "white", "strokeColor": "#555555", "padding": 4, "rowPadding": 2.8, "symbolSize": 196, "symbolStrokeWidth": 1, "symbolOffset": 21, "labelOffset": 24, "labelFontSize": 17, "labelColor": "#222222", "labelFont": "DejaVu Sans"}},
"shape": {"field": "s", "type": "nominal", "scale": {"domain": ["S1L","S1R","S2L","S2R","S3L","S3R"], "range": [
"M-3.4,0L3.4,0M-0.7,0A0.7,0.7,0,1,1,0.7,0A0.7,0.7,0,1,1,-0.7,0",
"M-3.4,0L3.4,0M-0.57,-0.57L0.57,-0.57L0.57,0.57L-0.57,0.57Z",
"M-3.4,0L3.4,0M0,-0.75L0.68,0.5L-0.68,0.5Z",
"M-3.4,0L3.4,0M-0.57,-0.57L0.57,-0.57L0.57,0.57L-0.57,0.57Z",
"M-3.4,0L3.4,0M0,-0.75L0.18,-0.24L0.71,-0.23L0.29,0.09L0.44,0.61L0,0.3L-0.44,0.61L-0.29,0.09L-0.71,-0.23L-0.18,-0.24Z",
"M-3.4,0L3.4,0M-0.55,-0.55L0.55,0.55M-0.55,0.55L0.55,-0.55"]},
"legend": {"title": null, "orient": "none", "legendX": 702, "legendY": 73, "fillColor": "white", "strokeColor": "#555555", "padding": 4, "rowPadding": 2.8, "symbolSize": 196, "symbolStrokeWidth": 1, "symbolOffset": 21, "labelOffset": 24, "labelFontSize": 17, "labelColor": "#222222", "labelFont": "DejaVu Sans"}}
}
}
],
"resolve": {"scale": {"color": "independent", "shape": "independent"}, "axis": {"x": "independent", "y": "independent"}, "legend": {"color": "independent", "shape": "independent"}}
}
